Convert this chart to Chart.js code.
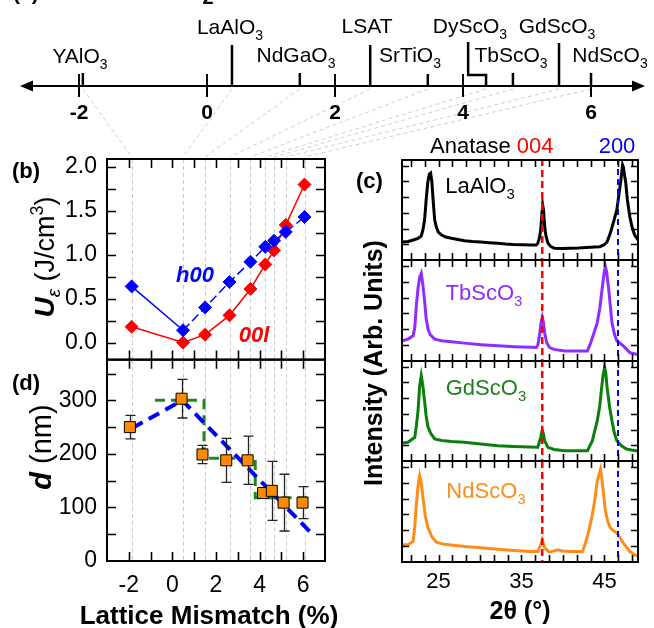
<!DOCTYPE html>
<html><head><meta charset="utf-8">
<script src="https://cdn.jsdelivr.net/npm/chart.js@4.4.1/dist/chart.umd.min.js"></script>
<style>
html,body{margin:0;padding:0;background:#fff;width:654px;height:628px;overflow:hidden;}
.box{position:absolute;}
canvas{display:block;}
</style></head><body>
<div class="box" style="left:0;top:0"><canvas id="cA" width="654" height="160"></canvas></div>
<div class="box" style="left:0;top:140px"><canvas id="cB" width="340" height="227"></canvas></div>
<div class="box" style="left:0;top:351px"><canvas id="cD" width="340" height="277"></canvas></div>
<div class="box" style="left:330px;top:150px"><canvas id="cC1" width="324" height="112"></canvas></div>
<div class="box" style="left:330px;top:250px"><canvas id="cC2" width="324" height="112"></canvas></div>
<div class="box" style="left:330px;top:351px"><canvas id="cC3" width="324" height="112"></canvas></div>
<div class="box" style="left:330px;top:451px"><canvas id="cC4" width="324" height="177"></canvas></div>
<canvas id="ov" width="654" height="628" style="position:absolute;left:0;top:0;pointer-events:none"></canvas>
<script>
// ===================== DATA =====================
// (a) number line of substrate lattice mismatch (%)
const numberLineTicks = [-2, 0, 2, 4, 6];
const substrates = ['YAlO3','LaAlO3','NdGaO3','LSAT','SrTiO3','DyScO3','TbScO3','GdScO3','NdScO3'];
const substrateMismatchLine = [-1.94, 0.39, 1.45, 2.55, 3.45, 4.36, 4.78, 5.5, 6.0];

// (b) strain energy density (J/cm^3) vs lattice mismatch (%)
const mismatchB = [-1.87, 0.49, 1.5, 2.62, 3.58, 4.26, 4.66, 5.2, 6.06];
const energyH00 = [0.64, 0.14, 0.40, 0.69, 0.92, 1.09, 1.16, 1.26, 1.43];
const energy00L = [0.18, 0.00, 0.09, 0.31, 0.61, 0.89, 1.05, 1.34, 1.80];

// (d) d (nm) vs lattice mismatch (%)
const mismatchD = [-1.95, 0.42, 1.38, 2.47, 3.45, 4.16, 4.56, 5.1, 5.97];
const thicknessD = [250, 303, 199, 188, 188, 127, 131, 109, 109];
const thicknessErr = [22, 36, 17, 41, 45, 8, 55, 53, 30];
const guideBlueX = [-1.85, 0.45, 6.3];
const guideBlueY = [248, 300, 55];
const guideGreenX = [-0.8, 1.45, 1.45, 3.8, 3.8, 6.2];
const guideGreenY = [300, 300, 192, 192, 118, 118];

// tick values
const ticksBX = [-2, -1, 0, 1, 2, 3, 4, 5, 6];
const ticksBY = [0, 0.25, 0.5, 0.75, 1.0, 1.25, 1.5, 1.75, 2.0];
const ticksDY = [0, 50, 100, 150, 200, 250, 300, 350];
const ticksCX = [21.667, 23.333, 25, 26.667, 28.333, 30, 31.667, 33.333, 35, 36.667, 38.333, 40, 41.667, 43.333, 45, 46.667, 48.333];
const ticksCY = [15.7, 31.4, 47.1, 62.8, 78.5, 94.2];

// (c) XRD 2theta scans (intensity, arb. units)
const anatase004 = 37.5;
const anatase200 = 46.63;
const ttLaAlO3 = [20.66,21.35,21.94,22.53,22.92,23.12,23.32,23.51,23.71,23.90,24.05,24.20,24.35,24.54,24.74,24.98,25.38,25.87,26.56,27.34,28.13,29.11,30.09,31.07,32.15,33.04,34.02,35.0,36.18,36.77,36.96,37.16,37.31,37.45,37.55,37.65,37.80,37.95,38.19,38.54,38.98,39.91,40.89,41.87,42.85,43.84,44.43,44.92,45.31,45.70,46.09,46.49,46.78,46.98,47.18,47.27,47.42,47.57,47.76,48.06,48.35,48.64,49.04];
const inLaAlO3 = [18,18.5,20,21.7,24,30,40,60,78,86,87,78,60,40,33,28,25,23,21.7,20.5,19.3,18.5,18,17.3,16.7,16,15.5,15.2,15,15,16.5,22,30,45,55,50,33,24,16.7,13.5,11.7,11.5,11.7,12,12.5,13,13.3,15,18,26.7,38,50,68,80,95,93,85,76.7,60,43,32,25,20];
const ttTbScO3 = [20.66,21.32,21.94,22.14,22.33,22.53,22.73,22.92,23.12,23.34,23.51,23.74,24.0,24.54,25.38,26.56,28.13,30.09,32.15,34.02,36.18,36.77,36.98,37.16,37.36,37.50,37.65,37.79,38.04,38.38,38.93,40.20,41.87,42.95,43.35,43.74,44.13,44.43,44.72,44.97,45.11,45.26,45.50,45.70,45.90,46.19,46.49,47.27,48.06,48.84,49.04];
const inTbScO3 = [20,21.7,25,33,55,72,83,86.7,75,58,42,31.7,26,21.7,20,19,17.7,16.2,15,14.2,13.5,13.3,16,25,38,43.3,38,28,18,13.3,11.5,10,10,10,18.3,28,38,52,71.7,88,93.3,88,71.7,55,38,27,20,15,8.3,6.7,6.5];
const ttGdScO3 = [20.66,21.32,22.14,22.33,22.53,22.73,22.92,23.12,23.32,23.51,23.74,24.1,24.54,25.38,26.56,28.13,30.09,32.15,34.02,35.98,36.96,37.31,37.50,37.65,37.79,38.18,38.93,40.2,41.87,42.95,43.54,44.13,44.43,44.62,44.82,45.02,45.16,45.31,45.6,45.9,46.19,46.49,47.08,47.66,48.25,48.84,49.04];
const inGdScO3 = [18,18.7,23.7,35,50,75,85.3,75,60,45,33.7,27,22,20.5,19.5,18.7,17,15.3,14.5,14,13.7,23.7,31,27,20.3,13.7,11.5,10.3,10.3,10.3,20.3,40.3,55,70.3,85,93.7,88,73.7,55,40.3,28,20.3,15,12,11,10.3,10];
const ttNdScO3 = [20.66,21.32,21.93,22.14,22.33,22.53,22.73,22.92,23.13,23.42,23.74,24.20,24.74,25.67,28.16,30.09,32.15,34.02,35.98,36.98,37.31,37.50,37.70,37.79,38.38,38.93,39.40,39.91,40.99,42.36,42.76,43.15,43.54,43.84,44.13,44.53,44.72,44.92,45.11,45.40,45.70,46.09,46.49,46.88,47.27,48.06,48.64,49.04];
const inNdScO3 = [17,17,20.3,35,57,75,85.3,78,63.7,45,33.7,25,19.7,17.5,15.3,14,12.7,11.5,10.5,10.3,17,22,17,13.7,9.7,11,12,11,10.3,10.3,20.3,32,47,62,80.3,92,80.3,65,50.3,40,33.7,31,28.7,24,18.7,10.3,7,6];

// ===================== LAYOUT / STYLE =====================
const FONT = "'Liberation Sans', Arial, Helvetica, sans-serif";
Chart.defaults.font.family = FONT;
Chart.defaults.color = '#000';
const markHeight = [13, 41, 13, 41, 12, 11, 13, 43, 13];
const dyLeaderX = 4.08, dyLeaderTop = 44;
const labelCenterX = [80, 230, 296, 367, 410, 470, 511, 557, 610];
const labelBaseY = [63, 34, 62, 33, 62, 33, 62, 33, 62];
const B_TOP = 140;

function fnt(sz, b, i) { return (i ? 'italic ' : '') + (b ? 'bold ' : '') + sz + 'px ' + FONT; }
function rich(ctx, x, y, runs, align, rot) {
  ctx.save(); ctx.translate(x, y); if (rot) ctx.rotate(rot);
  ctx.textBaseline = 'alphabetic'; ctx.textAlign = 'left';
  const ws = runs.map(r => { ctx.font = fnt(r.s, r.b, r.i); return ctx.measureText(r.t).width; });
  const tot = ws.reduce((a, b) => a + b, 0);
  let cx = align === 'center' ? -tot / 2 : align === 'right' ? -tot : 0;
  runs.forEach((r, k) => { ctx.font = fnt(r.s, r.b, r.i); ctx.fillStyle = r.c || '#000'; ctx.fillText(r.t, cx, r.dy || 0); cx += ws[k]; });
  ctx.restore();
}
function chem(name, size, color) {
  const m = name.match(/^(.*?)(\d*)$/);
  const runs = [{ t: m[1], s: size, c: color }];
  if (m[2]) runs.push({ t: m[2], s: Math.round(size * 0.68), c: color, dy: Math.round(size * 0.28) });
  return runs;
}
const pts = (xs, ys) => xs.map((x, i) => ({ x, y: ys[i] }));
const noPadY = w => s => { s.width = w; s.paddingTop = 0; s.paddingBottom = 0; };
const noPadX = h => s => { s.height = h; s.paddingLeft = 0; s.paddingRight = 0; };

// frame + inward ticks
const framePlugin = {
  id: 'frame',
  afterDatasetsDraw(chart, args, o) {
    const { ctx, chartArea: a } = chart; const xs = chart.scales.x, ys = chart.scales.y;
    ctx.save(); ctx.strokeStyle = '#000'; ctx.lineWidth = o.tw || 1.6; ctx.setLineDash([]);
    const L = o.len || 8;
    ctx.beginPath();
    (o.xTicks || []).forEach(v => { const p = Math.round(xs.getPixelForValue(v)) + 0.5;
      if (p < a.left || p > a.right) return;
      ctx.moveTo(p, a.top); ctx.lineTo(p, a.top + L); ctx.moveTo(p, a.bottom); ctx.lineTo(p, a.bottom - L); });
    (o.yTicks || []).forEach(v => { const p = Math.round(ys.getPixelForValue(v)) + 0.5;
      if (p < a.top || p > a.bottom) return;
      ctx.moveTo(a.left, p); ctx.lineTo(a.left + L, p); ctx.moveTo(a.right, p); ctx.lineTo(a.right - L, p); });
    ctx.stroke();
    ctx.lineWidth = o.fw || 2;
    ctx.strokeRect(a.left, a.top, a.right - a.left, a.bottom - a.top);
    ctx.restore();
  }
};
// vertical dashed guides at substrate positions
const vgridPlugin = {
  id: 'vgrid',
  beforeDatasetsDraw(chart, args, o) {
    if (!o.values) return;
    const { ctx, chartArea: a } = chart; const xs = chart.scales.x;
    ctx.save(); ctx.strokeStyle = '#c9c9c9'; ctx.lineWidth = 1; ctx.setLineDash([4, 3]);
    o.values.forEach(v => { const p = Math.round(xs.getPixelForValue(v)) + 0.5;
      ctx.beginPath(); ctx.moveTo(p, a.top); ctx.lineTo(p, a.bottom); ctx.stroke(); });
    ctx.restore();
  }
};
const baseOpts = (pad) => ({
  responsive: false, animation: false, devicePixelRatio: 1,
  layout: { padding: pad },
  plugins: { legend: { display: false }, tooltip: { enabled: false } }
});

// ---------- (b) ----------
const optB = baseOpts({ left: 0, right: 15, top: 19, bottom: 2 });
optB.plugins.frame = { xTicks: ticksBX, yTicks: ticksBY, len: 9 };
optB.plugins.vgrid = { values: mismatchB };
optB.scales = {
  x: { type: 'linear', min: -3, max: 7, display: false },
  y: { min: -0.193, max: 2.091, grid: { display: false, drawTicks: false }, border: { display: false },
       afterFit: noPadY(107),
       afterBuildTicks: s => { s.ticks = ticksBY.map(v => ({ value: v })); },
       ticks: { padding: 10, autoSkip: false, font: { size: 23 }, color: '#000',
                callback: v => (Math.abs(v * 2 - Math.round(v * 2)) < 1e-6 ? v.toFixed(1) : '') } }
};
const chartB = new Chart(document.getElementById('cB'), {
  type: 'scatter',
  data: { datasets: [
    { data: pts(mismatchB, energyH00), showLine: true, borderColor: '#0000ff', backgroundColor: '#0000ff',
      pointStyle: 'rectRot', pointRadius: 6.5, pointBorderWidth: 1, borderWidth: 1.5,
      segment: { borderDash: c => (c.p0DataIndex >= 1 ? [9, 4] : undefined) } },
    { data: pts(mismatchB, energy00L), showLine: true, borderColor: '#ff0000', backgroundColor: '#ff0000',
      pointStyle: 'rectRot', pointRadius: 6.5, pointBorderWidth: 1, borderWidth: 1.5 }
  ] },
  options: optB, plugins: [vgridPlugin, framePlugin]
});

// ---------- (d) ----------
const errPlugin = {
  id: 'errbars',
  afterDatasetDraw(chart, args) {
    if (args.index !== 1) return;
    const { ctx } = chart; const xs = chart.scales.x, ys = chart.scales.y;
    ctx.save(); ctx.strokeStyle = '#222'; ctx.lineWidth = 1.3; ctx.setLineDash([]);
    mismatchD.forEach((x, i) => {
      const px = Math.round(xs.getPixelForValue(x)) + 0.5;
      const top = ys.getPixelForValue(thicknessD[i] + thicknessErr[i]);
      const bot = ys.getPixelForValue(thicknessD[i] - thicknessErr[i]);
      ctx.beginPath(); ctx.moveTo(px, top); ctx.lineTo(px, bot);
      ctx.moveTo(px - 5, top); ctx.lineTo(px + 5, top); ctx.moveTo(px - 5, bot); ctx.lineTo(px + 5, bot); ctx.stroke();
    });
    ctx.restore();
  }
};
const optD = baseOpts({ left: 0, right: 15, top: 5, bottom: 0 });
optD.plugins.frame = { xTicks: ticksBX, yTicks: ticksDY, len: 9 };
optD.plugins.vgrid = { values: mismatchB };
optD.scales = {
  x: { type: 'linear', min: -3, max: 7, grid: { display: false, drawTicks: false }, border: { display: false },
       afterFit: noPadX(67),
       afterBuildTicks: s => { s.ticks = ticksBX.map(v => ({ value: v })); },
       ticks: { padding: 11, autoSkip: false, maxRotation: 0, font: { size: 23 }, color: '#000',
                callback: v => (v % 2 === 0 ? String(v) : '') } },
  y: { min: 0, max: 375.7, grid: { display: false, drawTicks: false }, border: { display: false },
       afterFit: noPadY(107),
       afterBuildTicks: s => { s.ticks = ticksDY.map(v => ({ value: v })); },
       ticks: { padding: 10, autoSkip: false, font: { size: 23 }, color: '#000',
                callback: v => (v % 100 === 0 ? String(v) : '') } }
};
const chartD = new Chart(document.getElementById('cD'), {
  type: 'scatter',
  data: { datasets: [
    { data: pts(mismatchD, thicknessD), showLine: false, pointStyle: 'rect', pointRadius: 7.8,
      backgroundColor: '#ff8a00', borderColor: '#000', pointBorderWidth: 1 },
    { data: pts(guideBlueX, guideBlueY), showLine: true, borderColor: '#0000ff', borderWidth: 4, borderDash: [12, 7], pointRadius: 0 },
    { data: pts(guideGreenX, guideGreenY), showLine: true, borderColor: '#1b8a1b', borderWidth: 3, borderDash: [10, 6], pointRadius: 0 }
  ] },
  options: optD, plugins: [vgridPlugin, errPlugin, framePlugin]
});

// ---------- (a) number line ----------
const nlPlugin = {
  id: 'numline',
  beforeDatasetsDraw(chart) {
    const { ctx } = chart; const xs = chart.scales.x, ys = chart.scales.y;
    const y0 = ys.getPixelForValue(0);
    ctx.save();
    // connectors to panel (b)
    ctx.strokeStyle = '#cfcfcf'; ctx.lineWidth = 1; ctx.setLineDash([4, 3]);
    substrateMismatchLine.forEach((v, i) => {
      ctx.beginPath(); ctx.moveTo(xs.getPixelForValue(v), y0 + 3);
      ctx.lineTo(chartB.scales.x.getPixelForValue(mismatchB[i]), chartB.chartArea.top + B_TOP - 2); ctx.stroke();
    });
    ctx.setLineDash([]);
    // axis with arrows
    const xl = xs.getPixelForValue(xs.min) + 5, xr = xs.getPixelForValue(xs.max) - 9;
    ctx.strokeStyle = '#000'; ctx.fillStyle = '#000'; ctx.lineWidth = 2;
    ctx.beginPath(); ctx.moveTo(xl + 8, y0); ctx.lineTo(xr - 8, y0); ctx.stroke();
    ctx.beginPath(); ctx.moveTo(xl, y0); ctx.lineTo(xl + 13, y0 - 5.5); ctx.lineTo(xl + 13, y0 + 5.5); ctx.closePath(); ctx.fill();
    ctx.beginPath(); ctx.moveTo(xr, y0); ctx.lineTo(xr - 13, y0 - 5.5); ctx.lineTo(xr - 13, y0 + 5.5); ctx.closePath(); ctx.fill();
    // major ticks + labels
    ctx.lineWidth = 2;
    numberLineTicks.forEach(v => { const p = Math.round(xs.getPixelForValue(v));
      ctx.beginPath(); ctx.moveTo(p, y0 - 12); ctx.lineTo(p, y0 + 11); ctx.stroke();
      rich(ctx, p, 119, [{ t: String(v), s: 21, b: true }], 'center'); });
    ctx.restore();
  },
  afterDatasetsDraw(chart) {
    const { ctx } = chart;
    substrates.forEach((s, i) => rich(ctx, labelCenterX[i], labelBaseY[i], chem(s, 21, '#000'), 'center'));
  }
};
const optA = baseOpts({ left: 15, right: 0, top: 0, bottom: 0 });
optA.scales = { x: { type: 'linear', min: -3, max: 6.984, display: false }, y: { min: -74, max: 86, display: false } };
const markSets = substrateMismatchLine.map((v, i) => {
  const d = substrates[i] === 'DyScO3'
    ? [{ x: v, y: 0 }, { x: v, y: markHeight[i] }, { x: dyLeaderX, y: markHeight[i] }, { x: dyLeaderX, y: dyLeaderTop }]
    : [{ x: v, y: 0 }, { x: v, y: markHeight[i] }];
  return { data: d, showLine: true, borderColor: '#000', borderWidth: 2.5, pointRadius: 0, clip: false, borderCapStyle: 'butt', borderJoinStyle: 'miter' };
});
const chartA = new Chart(document.getElementById('cA'), {
  type: 'scatter', data: { datasets: markSets }, options: optA, plugins: [nlPlugin]
});

// ---------- (c) XRD ----------
function makeC(id, xs, ys, color, padTop, padBottom, showX) {
  const o = baseOpts({ left: 72, right: 16, top: padTop, bottom: padBottom });
  o.plugins.frame = { xTicks: ticksCX, yTicks: ticksCY, len: 7 };
  o.scales = {
    x: showX ? { type: 'linear', min: 20.6, max: 49.04, grid: { display: false, drawTicks: false }, border: { display: false },
        afterFit: noPadX(66),
        afterBuildTicks: s => { s.ticks = ticksCX.map(v => ({ value: v })); },
        ticks: { padding: 7, autoSkip: false, maxRotation: 0, font: { size: 22 }, color: '#000',
                 callback: v => (Math.abs(v - 25) < 1e-6 || Math.abs(v - 35) < 1e-6 || Math.abs(v - 45) < 1e-6 ? String(v) : '') },
        title: { display: true, text: '2θ (°)', font: { size: 25, weight: 'bold' }, color: '#000', padding: { top: 0, bottom: 1 } } }
      : { type: 'linear', min: 20.6, max: 49.04, display: false },
    y: { min: 0, max: 100, display: false }
  };
  return new Chart(document.getElementById(id), {
    type: 'scatter',
    data: { datasets: [
      { data: [{ x: anatase004, y: -5 }, { x: anatase004, y: 105 }], showLine: true, borderColor: '#ff0000', borderWidth: 2.5, borderDash: [7, 4], pointRadius: 0 },
      { data: [{ x: anatase200, y: -5 }, { x: anatase200, y: 105 }], showLine: true, borderColor: '#0000ff', borderWidth: 2, borderDash: [6, 4], pointRadius: 0 },
      { data: pts(xs, ys), showLine: true, borderColor: color, borderWidth: 3, pointRadius: 0 }
    ] },
    options: o, plugins: [framePlugin]
  });
}
const cLa = makeC('cC1', ttLaAlO3, inLaAlO3, '#000000', 10, 2, false);
const cTb = makeC('cC2', ttTbScO3, inTbScO3, '#8f2cff', 10, 1, false);
const cGd = makeC('cC3', ttGdScO3, inGdScO3, '#0b7f0b', 10, 2, false);
const cNd = makeC('cC4', ttNdScO3, inNdScO3, '#ff8c1a', 10, 0, true);

// ---------- text overlay ----------
const ov = document.getElementById('ov').getContext('2d');
rich(ov, 13, 0, [{ t: '(a)', s: 21, b: true }]);
rich(ov, 208, 4, [{ t: '2', s: 20, b: true }], 'center');
rich(ov, 12, 178, [{ t: '(b)', s: 22, b: true }]);
rich(ov, 12, 390, [{ t: '(d)', s: 22, b: true }]);
rich(ov, 356, 188, [{ t: '(c)', s: 22, b: true }]);
rich(ov, 44 + 10, 257, [
  { t: 'U', s: 28, b: true, i: true }, { t: 'ε', s: 19, i: true, dy: 6 }, { t: ' (J/cm', s: 27 },
  { t: '3', s: 18, dy: -11 }, { t: ')', s: 27 }], 'center', -Math.PI / 2);
rich(ov, 41 + 10, 447, [{ t: 'd', s: 29, b: true, i: true }, { t: ' (nm)', s: 29 }], 'center', -Math.PI / 2);
rich(ov, 373 + 9, 363, [{ t: 'Intensity (Arb. Units)', s: 25, b: true }], 'center', -Math.PI / 2);
rich(ov, 209, 624, [{ t: 'Lattice Mismatch (%)', s: 26, b: true }], 'center');
rich(ov, 195, 282, [{ t: 'h00', s: 22, b: true, i: true, c: '#0000ff' }], 'center');
rich(ov, 254, 342, [{ t: '00l', s: 22, b: true, i: true, c: '#ff0000' }], 'center');
rich(ov, 430, 153, [{ t: 'Anatase ', s: 22 }, { t: '004', s: 22, c: '#ff0000' }]);
rich(ov, 617, 153, [{ t: '200', s: 22, c: '#0000ff' }], 'center');
rich(ov, 480, 193, chem('LaAlO3', 22, '#000'), 'center');
rich(ov, 484, 300, chem('TbScO3', 22, '#8f2cff'), 'center');
rich(ov, 486, 395, chem('GdScO3', 22, '#1f7f1f'), 'center');
rich(ov, 486, 498, chem('NdScO3', 22, '#ff8c1a'), 'center');
</script>
</body></html>
